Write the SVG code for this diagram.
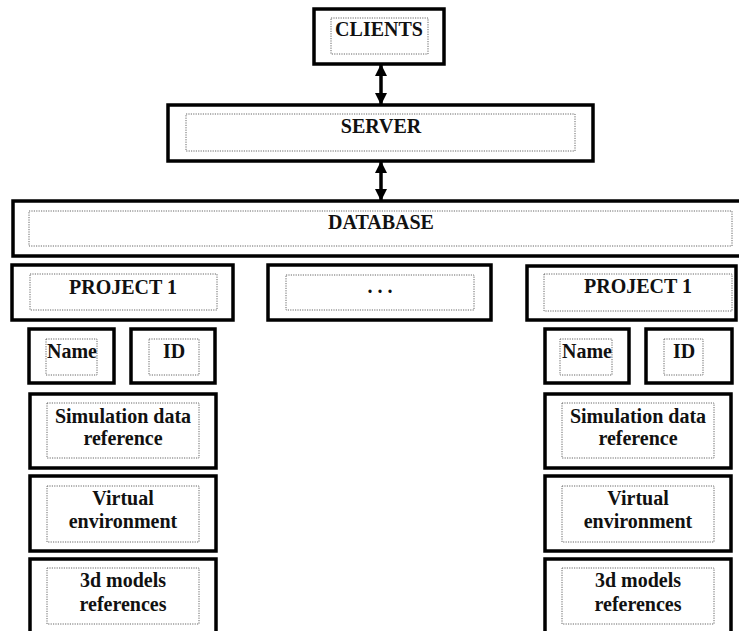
<svg xmlns="http://www.w3.org/2000/svg" width="739" height="631" viewBox="0 0 739 631">
<defs>
<style>
.o{fill:#fff;stroke:#000;stroke-width:3.5}
.i{fill:none;stroke:#666;stroke-width:1;stroke-dasharray:1.2 1.2}
.t{font-family:"Liberation Serif","Times New Roman",serif;font-weight:bold;font-size:20px;fill:#111;text-anchor:middle}
.c{stroke:#000;stroke-width:3.5;fill:none}
</style>
<marker id="ah" markerWidth="12" markerHeight="12" refX="11" refY="6" orient="auto-start-reverse" markerUnits="userSpaceOnUse"><path d="M0,0 L12,6 L0,12 Z" fill="#000"/></marker>
</defs>
<rect width="739" height="631" fill="#fff"/>
<g id="connectors">
<line class="c" x1="381" y1="65" x2="381" y2="104" marker-start="url(#ah)" marker-end="url(#ah)"/>
<line class="c" x1="381" y1="162" x2="381" y2="200" marker-start="url(#ah)" marker-end="url(#ah)"/>
</g>
<g id="clients">
<rect class="o" x="314" y="9" width="130" height="55"/>
<rect class="i" x="331" y="18" width="97" height="36"/>
<text class="t" x="379" y="36">CLIENTS</text>
</g>
<g id="server">
<rect class="o" x="168" y="105" width="425" height="56"/>
<rect class="i" x="186" y="114" width="389" height="37"/>
<text class="t" x="381" y="133">SERVER</text>
</g>
<g id="database">
<rect class="o" x="13" y="201" width="740" height="55"/>
<rect class="i" x="29" y="211" width="703" height="35"/>
<text class="t" x="381" y="229">DATABASE</text>
</g>
<g id="project-left">
<rect class="o" x="12" y="265" width="221" height="55"/>
<rect class="i" x="30" y="274" width="187" height="36"/>
<text class="t" x="123" y="294">PROJECT 1</text>
</g>
<g id="project-middle">
<rect class="o" x="268" y="265" width="223" height="55"/>
<rect class="i" x="286" y="275" width="188" height="35"/>
<text class="t" x="380" y="293">. . .</text>
</g>
<g id="project-right">
<rect class="o" x="527" y="266" width="209" height="54"/>
<rect class="i" x="544" y="274" width="188" height="37"/>
<text class="t" x="638" y="293">PROJECT 1</text>
</g>
<g id="name-left">
<rect class="o" x="29" y="329" width="85" height="54"/>
<rect class="i" x="46" y="339" width="51" height="36"/>
<text class="t" x="72" y="358">Name</text>
</g>
<g id="id-left">
<rect class="o" x="131" y="329" width="84" height="54"/>
<rect class="i" x="149" y="339" width="50" height="36"/>
<text class="t" x="174" y="358">ID</text>
</g>
<g id="name-right">
<rect class="o" x="545" y="329" width="84" height="54"/>
<rect class="i" x="560" y="339" width="52" height="36"/>
<text class="t" x="587" y="358">Name</text>
</g>
<g id="id-right">
<rect class="o" x="646" y="329" width="86" height="54"/>
<rect class="i" x="664" y="339" width="39" height="36"/>
<text class="t" x="684" y="358">ID</text>
</g>
<g id="sim-left">
<rect class="o" x="30" y="394" width="186" height="74"/>
<rect class="i" x="47" y="403" width="152" height="55"/>
<text class="t" x="123" y="423">Simulation data</text>
<text class="t" x="123" y="445">reference</text>
</g>
<g id="virtual-left">
<rect class="o" x="30" y="476" width="186" height="75"/>
<rect class="i" x="47" y="486" width="152" height="56"/>
<text class="t" x="123" y="505">Virtual</text>
<text class="t" x="123" y="528">environment</text>
</g>
<g id="models-left">
<rect class="o" x="30" y="559" width="186" height="80"/>
<rect class="i" x="47" y="568" width="152" height="56"/>
<text class="t" x="123" y="587">3d models</text>
<text class="t" x="123" y="611">references</text>
</g>
<g id="sim-right">
<rect class="o" x="545" y="394" width="186" height="74"/>
<rect class="i" x="562" y="403" width="152" height="55"/>
<text class="t" x="638" y="423">Simulation data</text>
<text class="t" x="638" y="445">reference</text>
</g>
<g id="virtual-right">
<rect class="o" x="545" y="476" width="186" height="75"/>
<rect class="i" x="562" y="486" width="152" height="56"/>
<text class="t" x="638" y="505">Virtual</text>
<text class="t" x="638" y="528">environment</text>
</g>
<g id="models-right">
<rect class="o" x="545" y="559" width="186" height="80"/>
<rect class="i" x="562" y="568" width="152" height="56"/>
<text class="t" x="638" y="587">3d models</text>
<text class="t" x="638" y="611">references</text>
</g>
</svg>
